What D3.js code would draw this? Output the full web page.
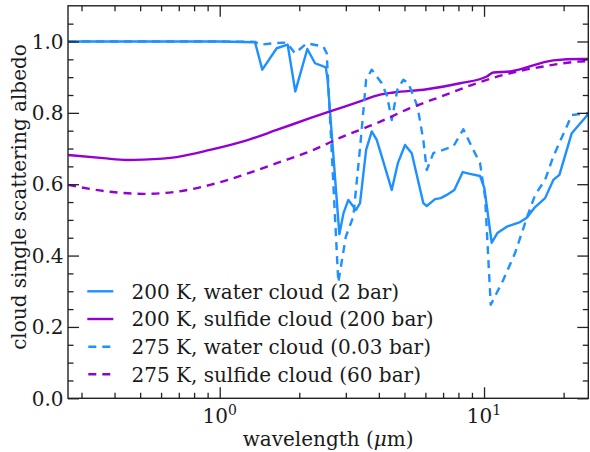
<!DOCTYPE html>
<html><head><meta charset="utf-8">
<script src="https://cdn.jsdelivr.net/npm/d3@7"></script>
<style>
body{margin:0;background:#fff;}
text{font-family:"DejaVu Serif",serif;fill:#1a1a1a;}
</style></head>
<body><svg id="c" width="590" height="452"></svg>
<script>
// ---- data (wavelength in micron, single scattering albedo) ----
const water200_wl = [0.267,0.6,1.0,1.36,1.449,1.643,1.808,1.932,2.145,2.294,2.466,2.518,2.56,2.835,2.94,3.066,3.279,3.395,3.58,3.76,3.927,4.102,4.475,4.72,5.025,5.327,5.892,6.071,6.527,6.858,7.226,7.72,8.306,8.851,9.658,10.03,10.69,11.23,12.19,13.69,14.51,15.6,17.02,18.29,19.28,21.47,24.8];
const water200_v  = [1.0,1.0,1.0,0.998,0.921,0.981,0.991,0.860,0.979,0.939,0.930,0.928,0.893,0.460,0.519,0.556,0.528,0.547,0.696,0.748,0.724,0.678,0.584,0.659,0.710,0.687,0.547,0.539,0.558,0.561,0.570,0.584,0.634,0.629,0.623,0.589,0.436,0.463,0.481,0.494,0.506,0.536,0.561,0.612,0.626,0.743,0.797];

const water275_wl = [0.267,0.6,1.0,1.36,1.421,1.595,1.793,1.927,2.134,2.466,2.54,2.81,3.0,3.202,3.4,3.58,3.76,4.102,4.3,4.475,4.7,4.951,5.172,5.6,5.892,6.071,6.431,7.654,8.35,9.11,9.658,10.09,10.6,11.83,13.1,14.51,15.6,17.02,18.29,20.56,21.47,24.8];
const water275_v  = [1.0,1.0,1.0,0.999,0.991,0.995,0.997,0.967,0.995,0.986,0.967,0.325,0.453,0.509,0.706,0.893,0.921,0.883,0.846,0.780,0.865,0.893,0.883,0.818,0.724,0.640,0.687,0.706,0.754,0.696,0.659,0.565,0.262,0.332,0.407,0.505,0.570,0.612,0.678,0.762,0.794,0.799];

const sulf200_wl = [0.267,0.3627,0.4446,0.514,0.6877,0.919,1.228,1.643,2.196,2.614,3.395,4.042,4.538,6.071,8.114,10.24,10.84,12.54,18.29,23.08,24.8];
const sulf200_v  = [0.682,0.673,0.668,0.669,0.676,0.696,0.720,0.752,0.785,0.804,0.832,0.851,0.857,0.866,0.883,0.902,0.913,0.916,0.947,0.951,0.951];

const sulf275_wl = [0.267,0.3845,0.514,0.6877,0.919,1.228,1.643,2.196,2.936,3.927,5.248,7.015,9.384,12.54,16.77,23.08,24.8];
const sulf275_v  = [0.598,0.579,0.573,0.579,0.598,0.626,0.659,0.692,0.734,0.771,0.813,0.848,0.883,0.911,0.930,0.944,0.945];

const legendLabels = ["200 K, water cloud (2 bar)","200 K, sulfide cloud (200 bar)","275 K, water cloud (0.03 bar)","275 K, sulfide cloud (60 bar)"];
const yTicks = [0.0,0.2,0.4,0.6,0.8,1.0];
const xMajor = [1,10];
const xMinor = [0.3,0.4,0.5,0.6,0.7,0.8,0.9,2,3,4,5,6,7,8,9,20];
const yMinor = [0.05,0.1,0.15,0.25,0.3,0.35,0.45,0.5,0.55,0.65,0.7,0.75,0.85,0.9,0.95,1.05];

const BLUE = "#1e90ff", PURPLE = "#9400d3";
const DASH = "8,6";
const series = [
  {wl:water200_wl, v:water200_v, color:BLUE, dash:null, curve:d3.curveLinear},
  {wl:sulf200_wl, v:sulf200_v, color:PURPLE, dash:null, curve:d3.curveMonotoneX},
  {wl:water275_wl, v:water275_v, color:BLUE, dash:DASH, curve:d3.curveLinear},
  {wl:sulf275_wl, v:sulf275_v, color:PURPLE, dash:DASH, curve:d3.curveMonotoneX}
];

const L=68, R=588.3, T=5.8, B=398.3;
const FS = "20px";
const svg = d3.select("#c");
const x = d3.scaleLog().domain([0.2667,24.8]).range([L,R]);
const y = d3.scaleLinear().domain([0,1.1]).range([B,T]);

svg.append("clipPath").attr("id","cp").append("rect")
  .attr("x",L).attr("y",T).attr("width",R-L).attr("height",B-T);

const g = svg.append("g").attr("clip-path","url(#cp)");
series.forEach(s=>{
  const pts = s.wl.map((w,i)=>[w,s.v[i]]);
  g.append("path").datum(pts)
    .attr("fill","none").attr("stroke",s.color).attr("stroke-width",2.4)
    .attr("stroke-dasharray",s.dash).attr("stroke-linejoin","round")
    .attr("d", d3.line().x(d=>x(d[0])).y(d=>y(d[1])).curve(s.curve));
});

// axes (ticks inside on all four sides)
function styleAx(sel){
  sel.select(".domain").remove();
  sel.selectAll(".tick line").attr("stroke","#222").attr("stroke-width",1.3);
}
const MJ=11, MN=5.5;
[[d3.axisBottom,B],[d3.axisTop,T]].forEach(([ax,pos])=>{
  svg.append("g").attr("transform",`translate(0,${pos})`)
    .call(ax(x).tickValues(xMajor).tickSize(-MJ).tickFormat("")).call(styleAx);
  svg.append("g").attr("transform",`translate(0,${pos})`)
    .call(ax(x).tickValues(xMinor).tickSize(-MN).tickFormat("")).call(styleAx);
});
[[d3.axisLeft,L],[d3.axisRight,R]].forEach(([ax,pos])=>{
  svg.append("g").attr("transform",`translate(${pos},0)`)
    .call(ax(y).tickValues(yTicks).tickSize(-MJ).tickFormat("")).call(styleAx);
  svg.append("g").attr("transform",`translate(${pos},0)`)
    .call(ax(y).tickValues(yMinor).tickSize(-MN).tickFormat("")).call(styleAx);
});

// frame
svg.append("rect").attr("x",L).attr("y",T).attr("width",R-L).attr("height",B-T)
  .attr("fill","none").attr("stroke","#222").attr("stroke-width",1.4);

// y tick labels
svg.selectAll(".ylab").data(yTicks).enter().append("text")
  .attr("x",L-4.5).attr("y",d=>y(d)).attr("dy","0.36em")
  .attr("text-anchor","end").style("font-size",FS)
  .text(d=>d.toFixed(1));

// x tick labels 10^n
xMajor.forEach(v=>{
  const t = svg.append("text").attr("x",x(v)).attr("y",423.3)
    .attr("text-anchor","middle").style("font-size",FS);
  t.append("tspan").text("10");
  t.append("tspan").attr("dy",-8.5).style("font-size","14px").text(String(Math.round(Math.log10(v))));
});

// axis labels
const xl = svg.append("text").attr("x",(L+R)/2).attr("y",445.7)
  .attr("text-anchor","middle").style("font-size",FS);
xl.append("tspan").text("wavelength (");
xl.append("tspan").style("font-style","italic").text("μ");
xl.append("tspan").text("m)");

svg.append("text").attr("transform",`translate(26,197) rotate(-90)`)
  .attr("text-anchor","middle").style("font-size",FS)
  .text("cloud single scattering albedo");

// legend
const leg = svg.append("g");
const legRowY = [291.3, 319.0, 346.7, 374.3];
series.forEach((s,i)=>{
  leg.append("line").attr("x1",87.3).attr("x2",113.3).attr("y1",legRowY[i]).attr("y2",legRowY[i])
    .attr("stroke",s.color).attr("stroke-width",2.4)
    .attr("stroke-dasharray",s.dash).attr("stroke-dashoffset",s.dash?13:0);
  leg.append("text").attr("x",131.5).attr("y",legRowY[i]).attr("dy","0.36em")
    .style("font-size",FS).text(legendLabels[i]);
});
</script></body></html>
